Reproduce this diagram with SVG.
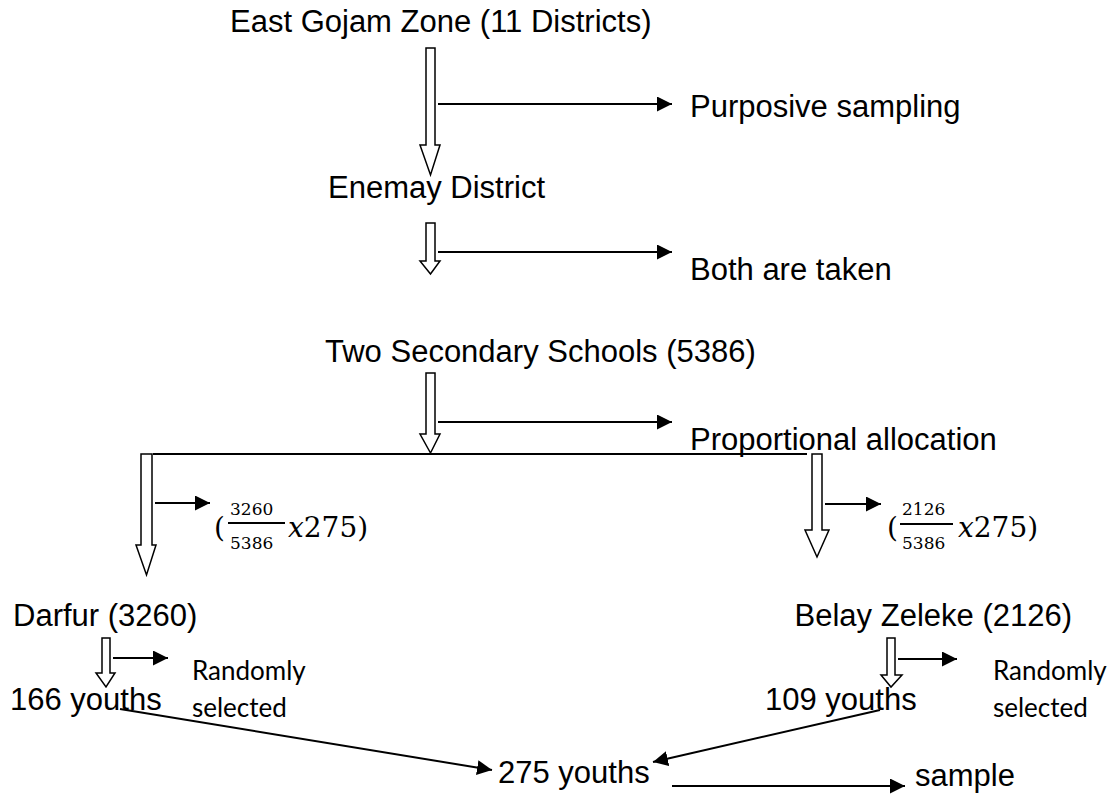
<svg xmlns="http://www.w3.org/2000/svg" width="1115" height="796" viewBox="0 0 1115 796">
<defs>
<marker id="ah" viewBox="0 0 10 10" refX="10" refY="5" markerWidth="7.5" markerHeight="7.5" markerUnits="strokeWidth" orient="auto">
<path d="M0,0 L10,5 L0,10 Z" fill="#000"/>
</marker>
<style>
.t{font-family:"Liberation Sans",Arial,sans-serif;font-size:31px;fill:#000}
.c{font-family:Lato,"Open Sans",sans-serif;font-size:26px;fill:#000}
.m{font-family:"DejaVu Serif","Liberation Serif",serif;fill:#000}
.blk{fill:#fff;stroke:#000;stroke-width:1.5}
.ln{stroke:#000;stroke-width:2;fill:none}
</style>
</defs>
<rect width="1115" height="796" fill="#fff"/>
<g id="n-east-gojam"><text class="t" x="230" y="32">East Gojam Zone (11 Districts)</text></g>
<g id="n-purposive"><text class="t" x="690" y="117">Purposive sampling</text></g>
<g id="n-enemay"><text class="t" x="328" y="198">Enemay District</text></g>
<g id="n-both"><text class="t" x="690" y="280">Both are taken</text></g>
<g id="n-two-schools"><text class="t" x="325" y="362">Two Secondary Schools (5386)</text></g>
<g id="n-proportional"><text class="t" x="690" y="450">Proportional allocation</text></g>
<g id="n-formula-left">
<text class="m" x="214" y="537" font-size="28">(</text>
<text class="m" x="230" y="515" font-size="17">3260</text>
<line x1="228" y1="523" x2="285" y2="523" stroke="#000" stroke-width="1.8"/>
<text class="m" x="230" y="549" font-size="17">5386</text>
<text class="m" x="288" y="537" font-size="28"><tspan font-style="italic">x</tspan>275)</text>
</g>
<g id="n-formula-right">
<text class="m" x="887" y="537" font-size="28">(</text>
<text class="m" x="902" y="515" font-size="17">2126</text>
<line x1="900" y1="524" x2="953" y2="524" stroke="#000" stroke-width="1.8"/>
<text class="m" x="902" y="549" font-size="17">5386</text>
<text class="m" x="958" y="537" font-size="28"><tspan font-style="italic">x</tspan>275)</text>
</g>
<g id="n-darfur"><text class="t" x="13" y="626">Darfur (3260)</text></g>
<g id="n-belay"><text class="t" x="1072" y="626" text-anchor="end">Belay Zeleke (2126)</text></g>
<g id="n-random-left"><text class="c" x="192" y="680">Randomly</text><text class="c" x="192" y="717">selected</text></g>
<g id="n-random-right"><text class="c" x="993" y="680">Randomly</text><text class="c" x="993" y="717">selected</text></g>
<g id="n-166"><text class="t" x="10" y="710">166 youths</text></g>
<g id="n-109"><text class="t" x="765" y="710">109 youths</text></g>
<g id="n-275"><text class="t" x="498" y="783">275 youths</text></g>
<g id="n-sample"><text class="t" x="915" y="786">sample</text></g>
<g id="connectors">
<path class="blk" d="M426,48 H435 V145 H440 L430.5,175 L420,145 H426 Z"/>
<path class="blk" d="M426,223 H435 V261 H440 L430.5,274 L420,261 H426 Z"/>
<path class="blk" d="M426,373 H435 V434 H440 L430.5,453 L420,434 H426 Z"/>
<path class="blk" d="M141,454 H152 V545 H156 L146.5,575 L136,545 H141 Z"/>
<path class="blk" d="M812,454 H822 V530 H829 L817,557 L805,530 H812 Z"/>
<path class="blk" d="M102,638 H110 V673 H115 L106,687 L96,673 H102 Z"/>
<path class="blk" d="M887,638 H895 V675 H902 L891,687 L881,675 H887 Z"/>
<line class="ln" x1="153" y1="454" x2="807" y2="454" stroke-width="1.5"/>
<line class="ln" x1="438" y1="104" x2="672" y2="104" marker-end="url(#ah)"/>
<line class="ln" x1="438" y1="252" x2="672" y2="252" marker-end="url(#ah)"/>
<line class="ln" x1="438" y1="422" x2="672" y2="422" marker-end="url(#ah)"/>
<line class="ln" x1="155" y1="503" x2="210" y2="503" marker-end="url(#ah)"/>
<line class="ln" x1="825" y1="504" x2="881" y2="504" marker-end="url(#ah)"/>
<line class="ln" x1="113" y1="658" x2="168" y2="658" marker-end="url(#ah)"/>
<line class="ln" x1="898" y1="659" x2="957" y2="659" marker-end="url(#ah)"/>
<line class="ln" x1="120" y1="709" x2="492" y2="770" marker-end="url(#ah)"/>
<line class="ln" x1="880" y1="710" x2="653" y2="762" marker-end="url(#ah)"/>
<line class="ln" x1="672" y1="786" x2="905" y2="786" marker-end="url(#ah)"/>
</g>
</svg>
